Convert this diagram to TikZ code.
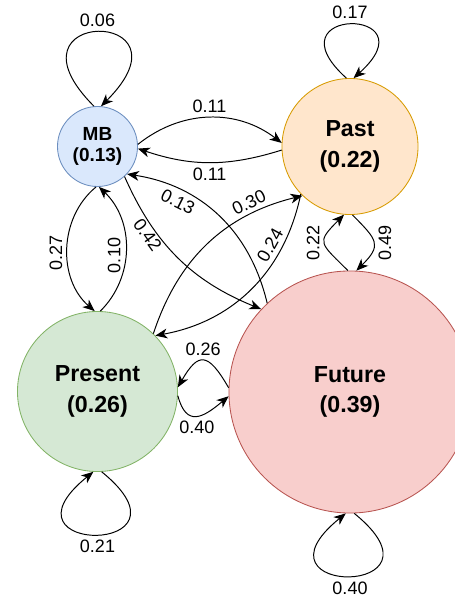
\documentclass[tikz,border=0pt]{standalone}
\usepackage{fontspec}
\setmainfont{Liberation Sans}
\usetikzlibrary{arrows.meta}

\definecolor{mbfill}{HTML}{DAE8FC}
\definecolor{mbline}{HTML}{6C8EBF}
\definecolor{pastfill}{HTML}{FFE6CC}
\definecolor{pastline}{HTML}{D79B00}
\definecolor{presfill}{HTML}{D5E8D4}
\definecolor{presline}{HTML}{82B366}
\definecolor{futfill}{HTML}{F8CECC}
\definecolor{futline}{HTML}{B85450}

\tikzstyle{circ} = [circle, draw, line width=0.6pt, inner sep=0pt, align=center, font=\fontsize{16.5}{21.5}\selectfont\bfseries]
\tikzstyle{small} = [font=\fontsize{13.5}{15}\selectfont\bfseries]

\begin{document}
\begin{tikzpicture}[x=0.025cm, y=0.025cm, line width=0.7pt, >={Stealth[length=8.5pt,width=7pt,inset=2.5pt]}, font=\fontsize{12.8}{14}\selectfont]
  \useasboundingbox (0,0) rectangle (454,-603);

  \node (mb) at (97.5,-146.5) [circ, small, minimum size=2cm, fill=mbfill, draw=mbline] {MB\\(0.13)};
  \node (past) at (350,-146.5) [circ, minimum size=3.4cm, fill=pastfill, draw=pastline] {Past\\(0.22)};
  \node (present) at (97.5,-391.5) [circ, minimum size=4cm, fill=presfill, draw=presline] {Present\\(0.26)};
  \node (future) at (350,-392) [circ, minimum size=6.05cm, fill=futfill, draw=futline] {Future\\(0.39)};

  \draw [->] (mb.95) to [out=135, in=45, distance=3.5cm] node [above] {0.06} (mb.85);
  \draw [->] (past.93) to [out=138, in=42, distance=2.68cm] node [above] {0.17} (past.87);
  \draw [->] (present.-87) to [out=-39, in=-141, distance=3.33cm] node [below] {0.21} (present.-93);
  \draw [->] (future.-88) to [out=-39, in=-141, distance=3.33cm] node [below] {0.40} (future.-92);

  \draw [->] (mb.3) to [bend left=38] node [above] {0.11} (past.177);
  \draw [->] (past.183) to [bend left=18] node [below] {0.11} (mb.-3);
  \draw [->] (mb.-92) to [bend right=50] node [rotate=90, above, pos=0.53] {0.27} (present.92);
  \draw [->] (present.88) to [bend right=46] node [rotate=90, above, pos=0.45] {0.10} (mb.-88);
  \draw [->] (future.91) to [out=135, in=-135, distance=1cm] node [rotate=90, above] {0.22} (past.-95);
  \draw [->] (past.-88) to [out=-45, in=45, distance=0.9cm] node [rotate=90, below] {0.49} (future.87);
  \draw [->] (future.178) to [out=120, in=60, distance=1.03cm] node [above] {0.26} (present.3);
  \draw [->] (present.-3) to [out=-75, in=-140, distance=0.83cm] node [below] {0.40} (future.-178);

  \draw [->] (future.133) to [bend right=34] node [sloped, below, pos=0.72] {0.13} (mb.-43);
  \draw [->] (mb.-48) to [bend right=22] node [sloped, below, pos=0.3, inner sep=1pt] {0.42} (future.137);
  \draw [->] (present.46) to [bend left=29] node [sloped, above, pos=0.77] {0.30} (past.-134);
  \draw [->] (past.-136) to [bend left=34] node [sloped, above, pos=0.27] {0.24} (present.44);
\end{tikzpicture}
\end{document}
